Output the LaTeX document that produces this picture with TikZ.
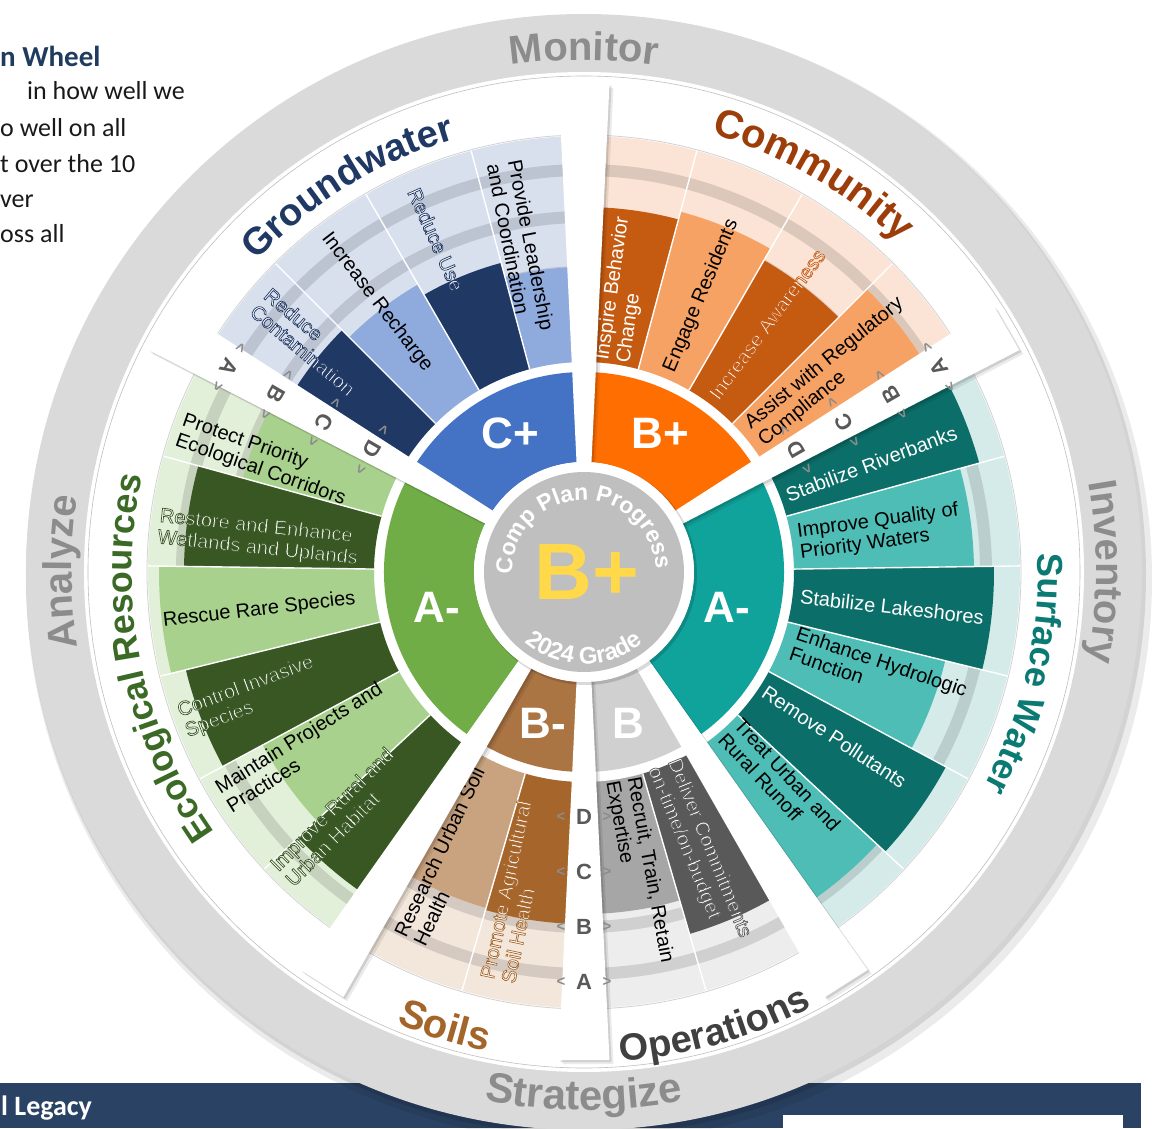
\documentclass[tikz,border=0pt]{standalone}
\usepackage{fontspec}
\setmainfont{Liberation Sans}
\newfontfamily\calfont{Carlito}
\newfontfamily\halofont[FakeBold=3.5]{Liberation Sans}
\usetikzlibrary{decorations.text,calc}

\definecolor{cmdark}{HTML}{C55A11}
\definecolor{cmlight}{HTML}{F7A265}
\definecolor{cmpale}{HTML}{FBE4D5}
\definecolor{cmhub}{HTML}{FF6E00}
\definecolor{cmtitle}{HTML}{9C3D0A}
\definecolor{gwdark}{HTML}{203864}
\definecolor{gwlight}{HTML}{8FAADC}
\definecolor{gwpale}{HTML}{D8E0EE}
\definecolor{gwhub}{HTML}{4472C4}
\definecolor{gwtitle}{HTML}{1F3864}
\definecolor{swdark}{HTML}{0B6E69}
\definecolor{swlight}{HTML}{4DBDB6}
\definecolor{swpale}{HTML}{D4EBEA}
\definecolor{swhub}{HTML}{10A39C}
\definecolor{swtitle}{HTML}{0B7A73}
\definecolor{ecdark}{HTML}{385723}
\definecolor{eclight}{HTML}{A9D18E}
\definecolor{ecpale}{HTML}{E2EFD9}
\definecolor{echub}{HTML}{70AD47}
\definecolor{ectitle}{HTML}{3B6A26}
\definecolor{sldark}{HTML}{A5652B}
\definecolor{sllight}{HTML}{C9A380}
\definecolor{slpale}{HTML}{F3E7DC}
\definecolor{slhub}{HTML}{AB7443}
\definecolor{sltitle}{HTML}{A4652A}
\definecolor{opdark}{HTML}{595959}
\definecolor{oplight}{HTML}{A6A6A6}
\definecolor{oppale}{HTML}{EDEDED}
\definecolor{ophub}{HTML}{D0D0D0}
\definecolor{optitle}{HTML}{404040}
\definecolor{ringgrey}{HTML}{DADADA}
\definecolor{ringtext}{HTML}{8C8C8C}
\definecolor{centgrey}{HTML}{BFBFBF}
\definecolor{gradeyel}{HTML}{FFD94A}
\definecolor{bandnavy}{HTML}{2A4364}
\definecolor{headblue}{HTML}{1F3B5E}

\tikzset{
    itemtxt/.style={font=\fontsize{20}{21.5}\selectfont, align=left, inner sep=0pt},
    spokeletter/.style={font=\fontsize{22}{22}\selectfont\bfseries, text=opdark, inner sep=0pt},
    chev/.style={font=\fontsize{15}{15}\selectfont\bfseries, text=black!45, inner sep=0pt},
    grade/.style={font=\fontsize{44}{44}\selectfont\bfseries, text=white, inner sep=0pt},
    track/.style={line width=12pt, black, opacity=0.12},
    barsep/.style={white, line width=1.4pt},
    bodytxt/.style={anchor=base west, inner sep=0pt, font=\calfont\fontsize{26}{26}\selectfont, text=black!90}
}

\newcommand{\annul}[5]{\fill[#1] (#2:#4pt) arc[start angle=#2, end angle=#3, radius=#4pt] -- (#3:#5pt) arc[start angle=#3, end angle=#2, radius=#5pt] -- cycle;}

\newcommand{\spokebar}[1]{%
  \fill[black, opacity=0.08, shift={(4,-4)}, rotate=#1] (100,7) -- (488,25.5) -- (488,-25.5) -- (100,-7) -- cycle;
  \fill[black, opacity=0.12, shift={(2,-2)}, rotate=#1] (100,7) -- (488,25.5) -- (488,-25.5) -- (100,-7) -- cycle;
  \fill[white, rotate=#1] (100,7) -- (488,25.5) -- (488,-25.5) -- (100,-7) -- cycle;}

% centre angle, baseline radius, colour, size, half span, text
\newcommand{\cwtext}[6]{%
  \pgfmathsetmacro\sa{#1+#5}\pgfmathsetmacro\se{#1-#5}%
  \path[decorate, decoration={text along path, text align=center, text={|\fontsize{#4}{#4}\selectfont\bfseries\color{#3}|#6}}] (\sa:#2pt) arc[start angle=\sa, end angle=\se, radius=#2pt];}
\newcommand{\ccwtext}[6]{%
  \pgfmathsetmacro\sa{#1-#5}\pgfmathsetmacro\se{#1+#5}%
  \path[decorate, decoration={text along path, text align=center, text={|\fontsize{#4}{#4}\selectfont\bfseries\color{#3}|#6}}] (\sa:#2pt) arc[start angle=\sa, end angle=\se, radius=#2pt];}

% white letters with a dark outline
\newcommand{\halotxt}[2]{{\halofont\special{pdf:bcolor [1 1 1] [#1]}#2\special{pdf:ecolor}}}

\begin{document}
\begin{tikzpicture}[x=1pt, y=1pt]
\useasboundingbox (-584,-556) rectangle (576,572);

\fill[bandnavy] (-584,-511) rectangle (557,-556);
\fill[white] (199,-543) rectangle (539,-556);
\node[anchor=base west, inner sep=0pt, font=\calfont\fontsize{28}{28}\selectfont\bfseries, text=white] (legacy) at (-583,-543) {l Legacy};
\node[anchor=base west, inner sep=0pt, font=\calfont\fontsize{29}{29}\selectfont\bfseries, text=headblue] (head) at (-584,505) {n Wheel};
\node[bodytxt] (body-1) at (-557,472) {in how well we};
\node[bodytxt] (body-2) at (-584,435) {o well on all};
\node[bodytxt] (body-3) at (-584,399) {t over the 10};
\node[bodytxt] (body-4) at (-584,364) {ver};
\node[bodytxt] (body-5) at (-584,329) {oss all};

% outer ring
\fill[black, opacity=0.08] (5,-7) circle[radius=563pt];
\fill[black, opacity=0.10] (2,-3) circle[radius=560pt];
\fill[ringgrey] (0,0) circle[radius=558pt];
\fill[white] (0,0) circle[radius=500pt];
\draw[black!25, line width=0.6pt] (0,0) circle[radius=496pt];
\cwtext{90}{512}{ringtext}{40}{40}{Monitor}
\cwtext{0}{512}{ringtext}{40}{40}{Inventory}
\cwtext{180}{512}{ringtext}{40}{40}{Analyze}
\ccwtext{-90}{538}{ringtext}{42}{40}{Strategize}

% petals
\foreach \a/\b/\c in {30/90/cmpale, 90/150/gwpale, 150/237.5/ecpale, 237.5/270/slpale, 270/302.5/oppale, -57.5/30/swpale}
    {\annul{\c}{\a}{\b}{210}{436}}
\foreach \r in {245,300,355,402}
    {\draw[track] (0,0) circle[radius=\r pt];}
\foreach \a/\b/\r/\c in {75/90/365/cmdark, 60/75/373/cmlight, 45/60/360/cmdark, 30/45/400/cmlight,
    90/105/305/gwlight, 105/120/320/gwdark, 120/135/332/gwlight, 135/150/342/gwdark,
    150/164.6/354/eclight, 164.6/179.2/400/ecdark, 179.2/193.8/425/eclight, 193.8/208.3/410/ecdark, 208.3/222.9/365/eclight, 222.9/237.5/390/ecdark,
    237.5/253.75/350/sllight, 253.75/270/352/sldark, 270/286.25/342/oplight, 286.25/302.5/377/opdark,
    15.4/30/410/swdark, 0.8/15.4/390/swlight, -13.8/0.8/410/swdark, -28.3/-13.8/372/swlight, -42.9/-28.3/411/swdark, -57.5/-42.9/400/swlight}
    {\annul{\c}{\a}{\b}{210}{\r}}
\foreach \a in {45,60,75,105,120,135,164.6,179.2,193.8,208.3,222.9,253.75,286.25,15.4,0.8,-13.8,-28.3,-42.9}
    {\draw[barsep] (\a:210pt) -- (\a:436pt);}
\draw[black!18, line width=0.8pt] (0,0) circle[radius=437pt];

\node[itemtxt, text=white, rotate=82] (cm-1) at (82:285pt) {Inspire Behavior\\Change};
\node[itemtxt, rotate=67] (cm-2) at (67:300pt) {Engage Residents};
\node[itemtxt, rotate=53.5] (cm-3) at (53.5:308pt) {\halotxt{0.77 0.35 0.07}{Increase Awareness}};
\node[itemtxt, rotate=39] (cm-4) at (39:318pt) {Assist with Regulatory\\Compliance};

\node[itemtxt, rotate=-79] (gw-1) at (101:331pt) {Provide Leadership\\and Coordination};
\node[itemtxt, rotate=-66] (gw-2) at (114:364pt) {\halotxt{0.125 0.22 0.39}{Reduce Use}};
\node[itemtxt, rotate=-52.5] (gw-3) at (127.5:340pt) {Increase Recharge};
\node[itemtxt, rotate=-40] (gw-4) at (140:358pt) {\halotxt{0.125 0.22 0.39}{Reduce}\\\halotxt{0.125 0.22 0.39}{Contamination}};

\node[itemtxt, rotate=-19.3] (ec-1) at (160.7:339pt) {Protect Priority\\Ecological Corridors};
\node[itemtxt, rotate=-6] (ec-2) at (174:327pt) {\halotxt{0.22 0.34 0.14}{Restore and Enhance}\\\halotxt{0.22 0.34 0.14}{Wetlands and Uplands}};
\node[itemtxt, rotate=6.7] (ec-3) at (186.7:327pt) {Rescue Rare Species};
\node[itemtxt, rotate=20.5] (ec-4) at (200.5:357pt) {\halotxt{0.22 0.34 0.14}{Control Invasive}\\\halotxt{0.22 0.34 0.14}{Species}};
\node[itemtxt, rotate=32] (ec-5) at (212:330pt) {Maintain Projects and\\Practices};
\node[itemtxt, rotate=45] (ec-6) at (225:346pt) {\halotxt{0.22 0.34 0.14}{Improve Rural and}\\\halotxt{0.22 0.34 0.14}{Urban Habitat}};

\node[itemtxt, rotate=64.6] (sl-1) at (244.6:315pt) {Research Urban Soil\\Health};
\node[itemtxt, rotate=78] (sl-2) at (258:327pt) {\halotxt{0.65 0.40 0.17}{Promote Agricultural}\\\halotxt{0.65 0.40 0.17}{Soil Health}};

\node[itemtxt, rotate=-79.6] (op-1) at (-79.6:305pt) {Recruit, Train, Retain\\Expertise};
\node[itemtxt, rotate=-67.7] (op-2) at (-67.7:303pt) {\halotxt{0.35 0.35 0.35}{Deliver Commitments}\\\halotxt{0.35 0.35 0.35}{on-time/on-budget}};

\node[itemtxt, text=white, rotate=20.6] (sw-1) at (20.6:307pt) {Stabilize Riverbanks};
\node[itemtxt, rotate=7.7] (sw-2) at (7.7:298pt) {Improve Quality of\\Priority Waters};
\node[itemtxt, text=white, rotate=-6.5] (sw-3) at (-6.5:310pt) {Stabilize Lakeshores};
\node[itemtxt, rotate=-18.7] (sw-4) at (-18.7:311pt) {Enhance Hydrologic\\Function};
\node[itemtxt, text=white, rotate=-33.4] (sw-5) at (-33.4:300pt) {Remove Pollutants};
\node[itemtxt, rotate=-47] (sw-6) at (-47:287pt) {Treat Urban and\\Rural Runoff};

% sector titles
\cwtext{121.5}{452}{gwtitle}{38}{50}{Groundwater}
\cwtext{60}{456}{cmtitle}{40}{50}{Community}
\cwtext{-13}{454}{swtitle}{36}{50}{Surface Water}
\cwtext{191.5}{452}{ectitle}{36}{60}{Ecological Resources}
\ccwtext{-74}{491}{optitle}{38}{40}{Operations}
\ccwtext{-107}{489}{sltitle}{40}{30}{Soils}

% hub
\foreach \a/\b/\c in {30/90/cmhub, 90/150/gwhub, 150/237.5/echub, 237.5/270/slhub, 270/302.5/ophub, -57.5/30/swhub}
    {\annul{\c}{\a}{\b}{110}{200}}
\foreach \p in {90,30,-57.5,-90,-122.5,150}
    {\spokebar{\p}}
\fill[black, opacity=0.15] (2,-2) circle[radius=111pt];
\fill[white] (0,0) circle[radius=110pt];
\fill[centgrey] (0,0) circle[radius=100pt];
\cwtext{92}{72}{white}{23}{120}{Comp Plan Progress}
\ccwtext{-90}{92}{white}{24}{100}{2024 Grade}
\node[font=\fontsize{80}{80}\selectfont\bfseries, text=gradeyel, inner sep=0pt] (total) at (3,0) {B+};

\foreach \p/\t in {150/-120, 30/120, -90/0} {
    \foreach \g/\r in {D/245, C/300, B/355, A/410} {
        \node[spokeletter, rotate=\t] (sp\p-\g) at (\p:\r pt) {\g};
        \node[chev, rotate=\t] (sp\p-\g-l) at ($(\p:\r pt)+(\p-90:23pt)$) {<};
        \node[chev, rotate=\t] (sp\p-\g-r) at ($(\p:\r pt)+(\p+90:23pt)$) {>};
    }
}

\node[grade] (g-gw) at (-74,139) {C+};
\node[grade] (g-cm) at (76,139) {B+};
\node[grade] (g-sw) at (143,-35) {A-};
\node[grade] (g-ec) at (-147,-35) {A-};
\node[grade] (g-sl) at (-41,-151) {B-};
\node[grade] (g-op) at (44,-151) {B};
\end{tikzpicture}
\end{document}
